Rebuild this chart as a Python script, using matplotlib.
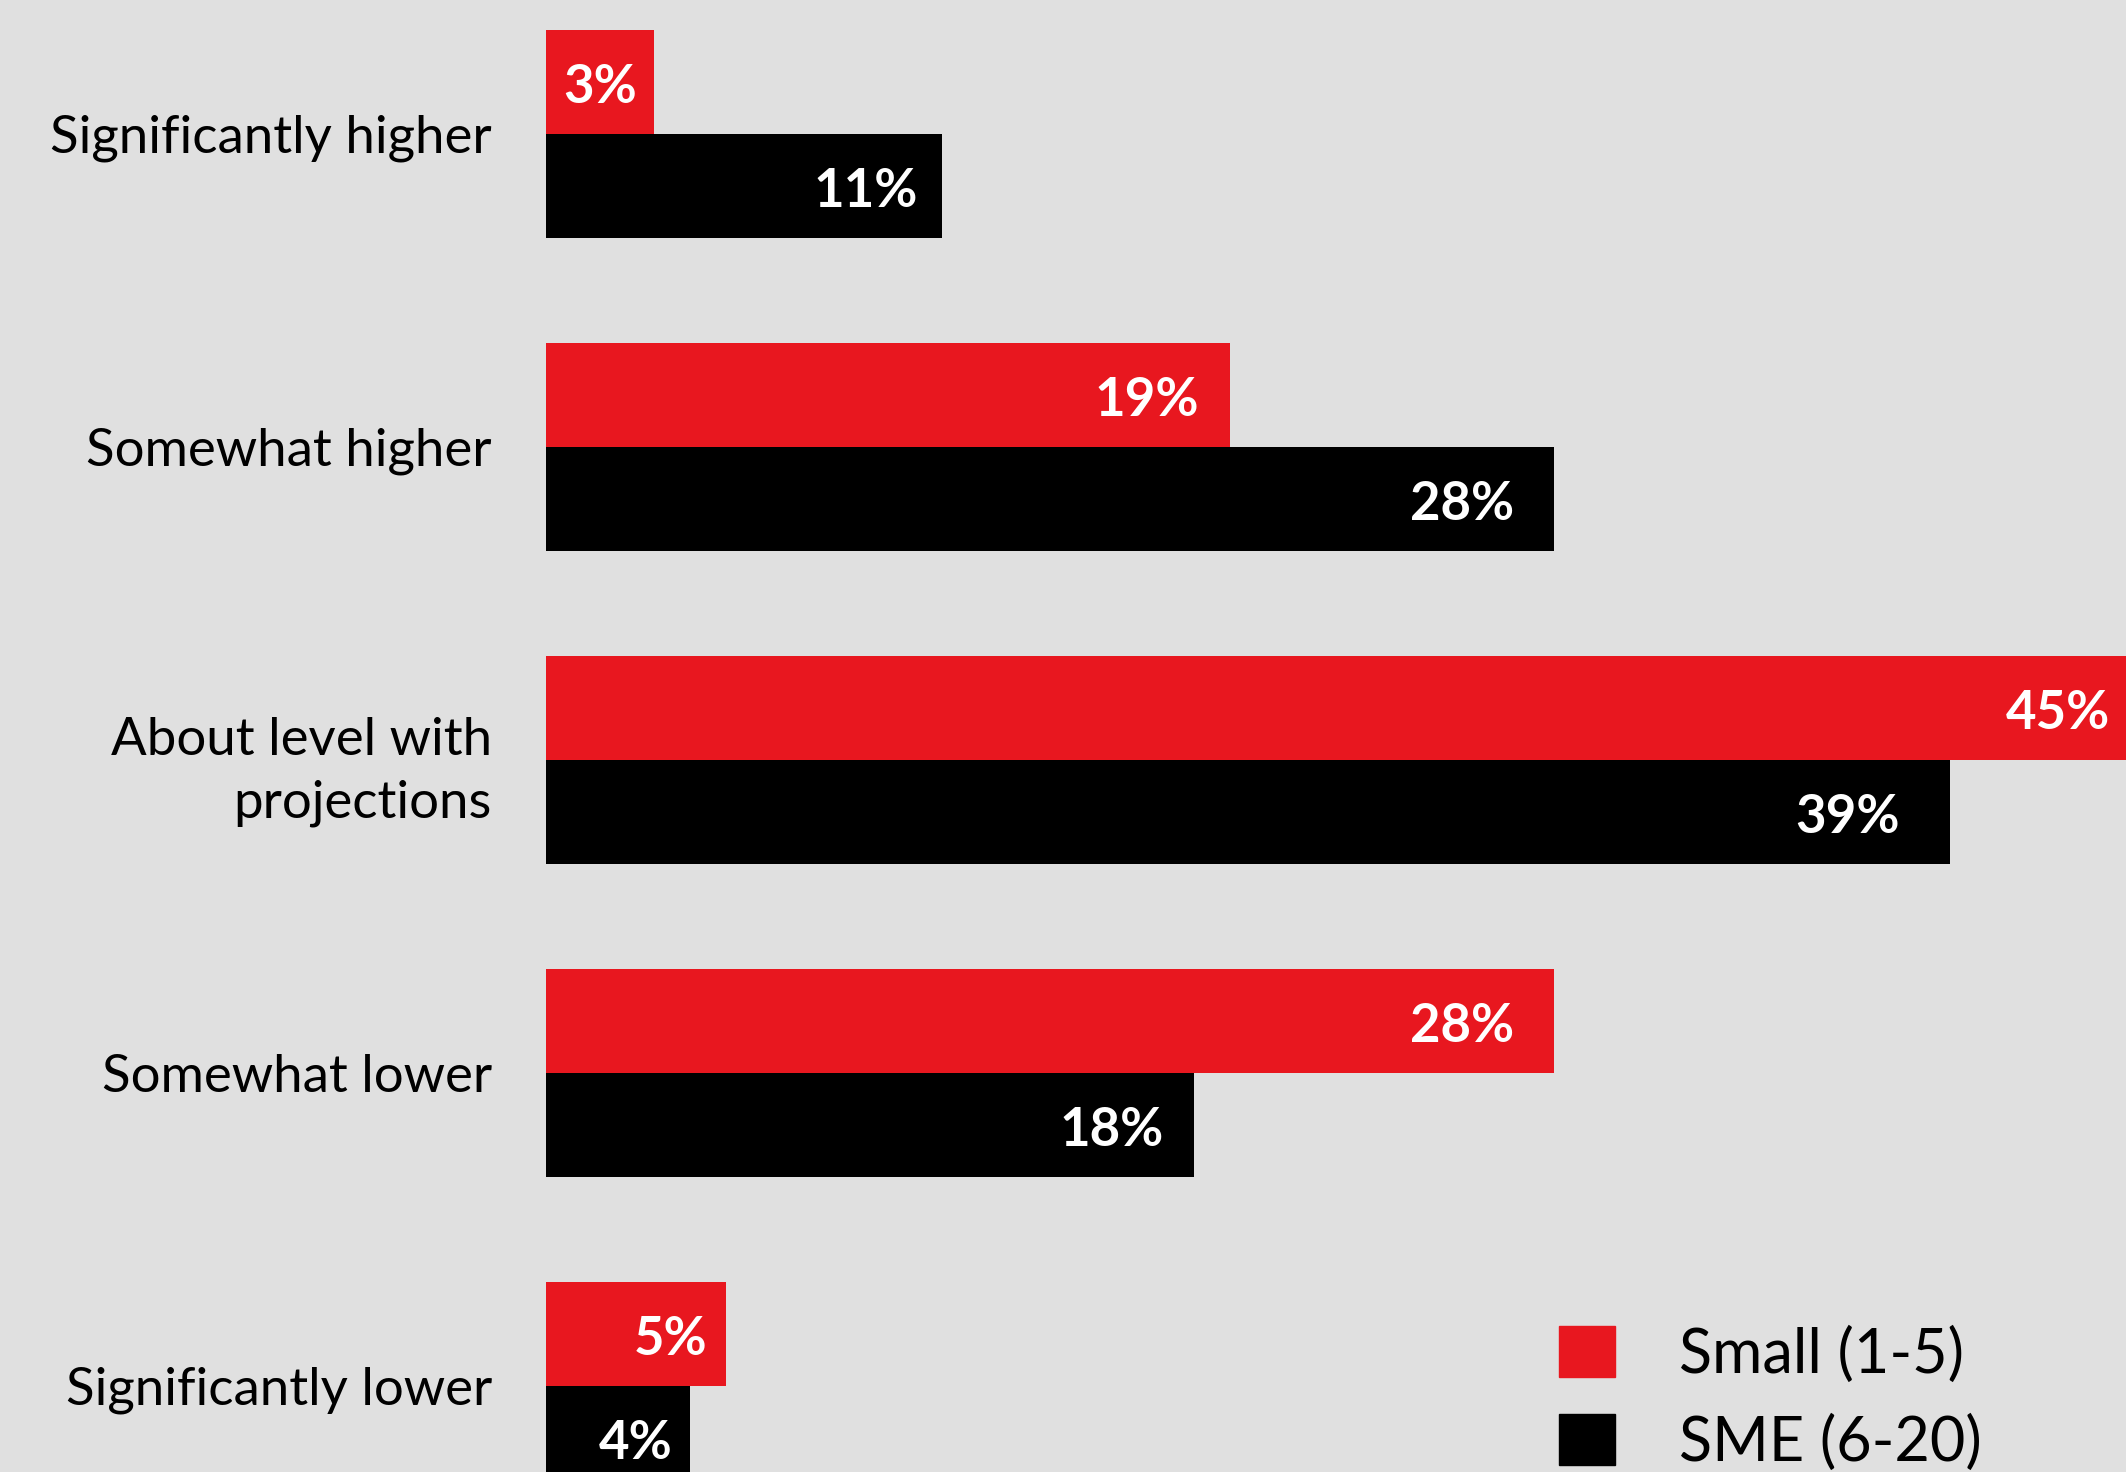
import matplotlib
matplotlib.use("Agg")
import matplotlib.pyplot as plt
from matplotlib.patches import Patch

categories = ["Significantly higher", "Somewhat higher", "About level with\nprojections",
              "Somewhat lower", "Significantly lower"]
small = [3, 19, 45, 28, 5]
sme = [11, 28, 39, 18, 4]
series_names = ["Small (1-5)", "SME (6-20)"]

RED = "#E8171F"
BLACK = "#000000"
BG = "#E0E0E0"

plt.rcParams['font.family'] = ['Lato', 'DejaVu Sans']

W, H = 2126, 1472
fig = plt.figure(figsize=(W / 100, H / 100), dpi=100, facecolor=BG)
x0 = 546
ax = fig.add_axes([x0 / W, 0, (W - x0) / W, 1])
ax.set_facecolor(BG)

h = 0.333
ypos = list(range(len(categories)))
xmax = (W - x0) / 36.0

ax.barh([y - h / 2 for y in ypos], small, height=h, color=RED, label=series_names[0])
ax.barh([y + h / 2 for y in ypos], sme, height=h, color=BLACK, label=series_names[1])


def label_x(v):
    # labels sit a little inside the bar end
    return v * 0.974 - 0.38


for y, v in zip(ypos, small):
    ax.annotate(f"{v}%", (label_x(v), y - h / 2), xytext=(0, -4), textcoords="offset points",
                ha="right", va="center", color="white", fontsize=38, fontweight="bold")
for y, v in zip(ypos, sme):
    ax.annotate(f"{v}%", (label_x(v), y + h / 2), xytext=(0, -4), textcoords="offset points",
                ha="right", va="center", color="white", fontsize=38, fontweight="bold")

ax.set_xlim(0, xmax)
ax.set_ylim(4.275, -0.428)
ax.set_yticks(ypos)
ax.set_yticklabels(categories, fontsize=38, ha="right", linespacing=1.39)
ax.tick_params(axis="y", length=0, pad=39)
ax.set_xticks([])
for s in ax.spines.values():
    s.set_visible(False)

handles = [Patch(color=RED), Patch(color=BLACK)]
fig.legend(handles, series_names, loc="upper left", bbox_to_anchor=(1504 / W, 1 - 1271 / H),
           frameon=False, fontsize=44, handlelength=0.91, handleheight=0.91,
           handletextpad=1.05, labelspacing=0.5)

fig.savefig("out.png", dpi=100, facecolor=BG)
